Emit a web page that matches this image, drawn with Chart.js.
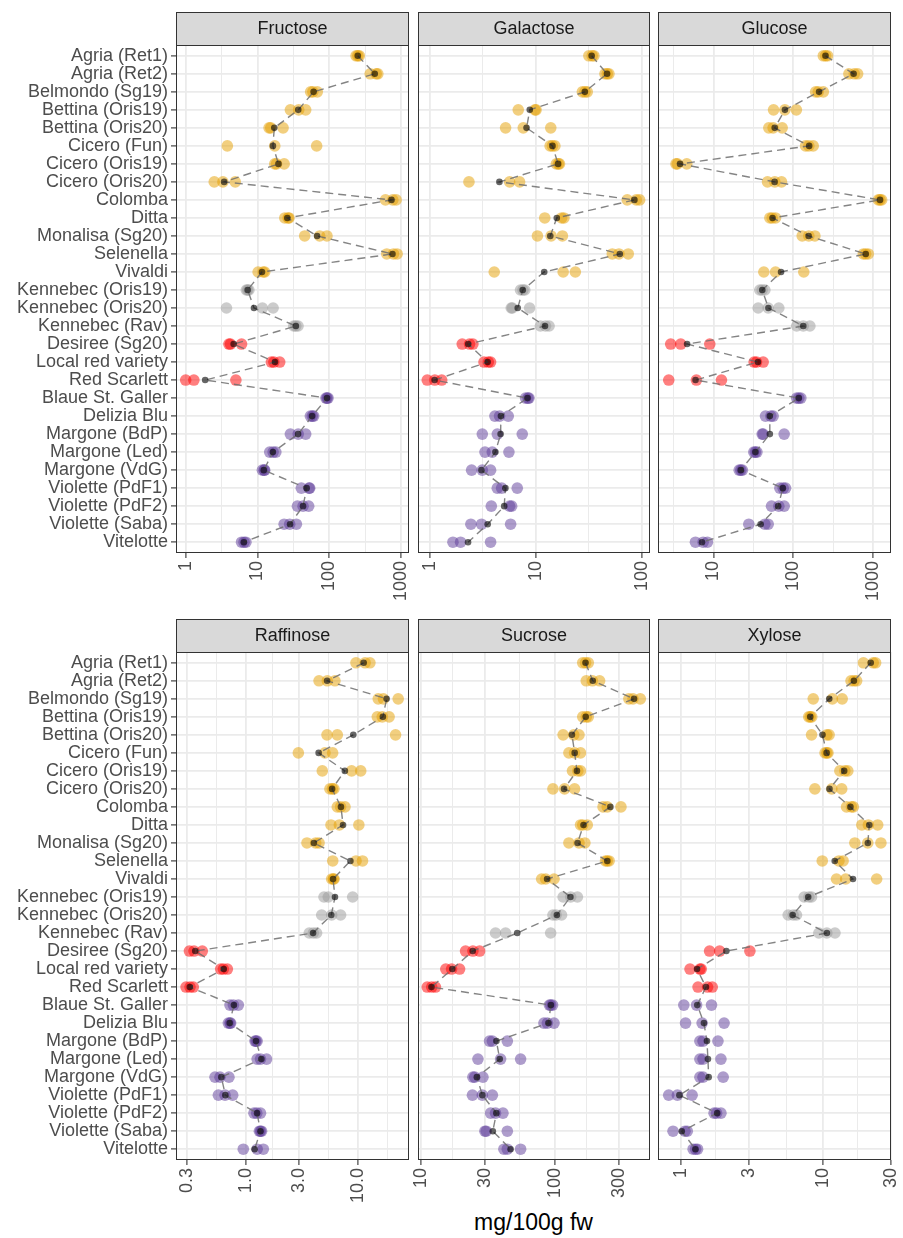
<!DOCTYPE html>
<html>
<head>
<meta charset="utf-8">
<script src="https://cdn.jsdelivr.net/npm/chart.js@4.4.1/dist/chart.umd.min.js"></script>
<style>
  html, body { margin: 0; padding: 0; background: #ffffff; }
  #wrap { position: relative; width: 903px; height: 1238px; overflow: hidden; background: #ffffff; }
  #wrap canvas { position: absolute; }
  #xtitle {
    position: absolute; left: 176px; width: 715px; top: 1209px;
    text-align: center; line-height: 26px;
    font: 23px "Liberation Sans", Arial, sans-serif; color: #000000;
  }
</style>
</head>
<body>
<div id="wrap"><div id="xtitle">mg/100g fw</div></div>
<script>
// Potato varieties, top to bottom
const categories = [
  'Agria (Ret1)', 'Agria (Ret2)', 'Belmondo (Sg19)', 'Bettina (Oris19)', 'Bettina (Oris20)',
  'Cicero (Fun)', 'Cicero (Oris19)', 'Cicero (Oris20)', 'Colomba', 'Ditta', 'Monalisa (Sg20)',
  'Selenella', 'Vivaldi', 'Kennebec (Oris19)', 'Kennebec (Oris20)', 'Kennebec (Rav)',
  'Desiree (Sg20)', 'Local red variety', 'Red Scarlett', 'Blaue St. Galler', 'Delizia Blu',
  'Margone (BdP)', 'Margone (Led)', 'Margone (VdG)', 'Violette (PdF1)', 'Violette (PdF2)',
  'Violette (Saba)', 'Vitelotte'
];

// Flesh colour group of each variety
const fleshGroup = [
  'yellow', 'yellow', 'yellow', 'yellow', 'yellow', 'yellow', 'yellow', 'yellow', 'yellow',
  'yellow', 'yellow', 'yellow', 'yellow', 'white', 'white', 'white', 'red', 'red', 'red',
  'purple', 'purple', 'purple', 'purple', 'purple', 'purple', 'purple', 'purple', 'purple'
];

// Three replicate measurements per variety, mg/100g fw
const fructose = [
  [236, 250, 262], [371, 450, 474], [55, 59, 68], [28.7, 37.5, 46.9], [14.5, 15.3, 22.7],
  [3.8, 17.4, 66.7], [17.4, 18.4, 23.5], [2.5, 3.3, 4.9], [606, 766, 853], [24.0, 26.7, 27.5],
  [45.4, 73.4, 92.8], [632, 783, 880], [10.2, 12.0, 12.6], [7.0, 7.3, 7.6], [3.7, 11.7, 16.5],
  [32.0, 34.1, 36.7], [4.0, 4.2, 6.0], [15.6, 16.9, 20.4], [1.0, 1.3, 5.0], [90, 93, 96],
  [54.5, 58, 60.6], [28.7, 36.9, 46.9], [14.8, 16.5, 18.0], [11.7, 12.4, 12.6], [40.8, 52.2, 53.3],
  [36.0, 43.1, 51.6], [23.5, 28.1, 34.8], [6.0, 6.5, 6.9]
];
const galactose = [
  [31.8, 34.2, 35.5], [45.1, 47.4, 49.2], [27.6, 29.2, 30.7], [6.86, 9.86, 10.1], [5.21, 7.65, 13.9],
  [13.7, 14.4, 15.2], [15.7, 16.4, 16.8], [2.35, 5.69, 7.06], [73.2, 89.1, 95.8], [12.2, 17.6, 18.5],
  [10.4, 14.0, 17.9], [52.9, 61.1, 74.8], [4.07, 18.2, 23.7], [7.2, 7.6, 7.9], [5.89, 6.03, 8.78],
  [11.1, 12.4, 13.4], [2.03, 2.38, 2.56], [3.26, 3.58, 3.76], [0.95, 1.12, 1.30], [8.05, 8.47, 8.65],
  [4.13, 4.57, 5.52], [3.14, 4.35, 7.48], [3.33, 3.90, 5.60], [2.49, 3.14, 3.76], [4.35, 4.78, 6.71],
  [3.82, 5.69, 5.94], [2.45, 3.09, 5.81], [1.66, 1.96, 3.76]
];
const glucose = [
  [237, 253, 268], [495, 578, 637], [190, 205, 237], [56.5, 78.3, 109], [49.3, 55.8, 72.4],
  [142, 156, 177], [3.40, 3.54, 4.64], [47.5, 58.6, 71.1], [1156, 1213, 1272], [50.8, 54.3, 59.8],
  [129, 156, 186], [750, 802, 865], [42.7, 59.8, 135], [38.0, 40.7, 44.0], [36.3, 48.4, 65.8],
  [110, 133, 161], [2.92, 3.90, 9.0], [32.3, 34.6, 41.9], [2.76, 6.12, 12.6], [110, 117, 124],
  [44.8, 52.2, 55.8], [40.7, 41.9, 76.7], [32, 33.5, 35], [21, 22, 23], [67.8, 74.6, 79.8],
  [53.3, 65.8, 76.7], [27.7, 44.0, 48.4], [5.96, 7.43, 8.41]
];
const raffinose = [
  [9.62, 11.6, 12.8], [4.50, 5.33, 6.24], [15.2, 16.9, 22.9], [14.9, 16.5, 19.0], [5.30, 6.55, 21.7],
  [2.94, 5.08, 5.95], [4.81, 8.79, 10.6], [5.63, 5.92, 6.11], [6.55, 7.01, 7.67], [5.75, 6.83, 10.2],
  [3.51, 4.20, 4.50], [5.96, 9.62, 11.0], [5.83, 6.04, 6.13], [4.98, 5.44, 8.98], [4.75, 5.83, 7.01],
  [3.68, 4.00, 4.28], [0.313, 0.344, 0.408], [0.595, 0.629, 0.683], [0.292, 0.317, 0.339],
  [0.721, 0.773, 0.856], [0.697, 0.721, 0.731], [1.205, 1.23, 1.26], [1.26, 1.35, 1.53],
  [0.530, 0.587, 0.706], [0.568, 0.651, 0.762], [1.18, 1.25, 1.35], [1.32, 1.35, 1.38],
  [0.948, 1.26, 1.43]
];
const sucrose = [
  [161, 169, 177], [171, 190, 215], [355, 381, 432], [161, 171, 177], [115, 138, 151],
  [127, 140, 155], [135, 148, 155], [96.6, 118, 140], [228, 245, 310], [155, 161, 174],
  [127, 151, 167], [238, 245, 253], [79.6, 85.3, 98.4], [115, 131, 147], [96.6, 102, 112],
  [36.1, 42.9, 92.9], [21.6, 24.5, 27.5], [15.4, 17.0, 19.5], [11.2, 12.1, 12.9], [91, 93, 96],
  [82.8, 87.8, 98.4], [32.6, 34.2, 44.2], [26.7, 39.4, 55.5], [24.5, 25.3, 29.1], [24.3, 28.8, 34.2],
  [33.2, 36.1, 41.0], [30.1, 30.8, 44.2], [41.7, 44.2, 55.5]
];
const xylose = [
  [19.2, 22.5, 23.4], [15.7, 16.5, 17.2], [8.50, 11.6, 13.6], [7.9, 8.1, 8.3], [8.27, 10.6, 11.0],
  [10.3, 10.6, 10.8], [13.1, 14.2, 14.9], [8.73, 11.5, 13.5], [14.6, 15.8, 16.3], [18.7, 20.8, 24.2],
  [16.7, 20.6, 25.5], [9.84, 12.9, 13.8], [12.4, 14.4, 23.8], [7.34, 7.92, 8.27], [5.66, 6.14, 6.48],
  [9.31, 10.6, 12.1], [1.58, 1.86, 3.04], [1.15, 1.35, 1.38], [1.31, 1.53, 1.65], [1.04, 1.28, 1.63],
  [1.07, 1.40, 2.0], [1.35, 1.42, 1.81], [1.35, 1.42, 1.90], [1.35, 1.42, 1.97], [0.814, 0.937, 1.19],
  [1.70, 1.77, 1.90], [0.873, 1.06, 1.10], [1.21, 1.26, 1.30]
];

// Axis breaks and their labels for each sugar
const fructoseTicks = [1, 10, 100, 1000];
const fructoseLabels = ['1', '10', '100', '1000'];
const galactoseTicks = [1, 10, 100];
const galactoseLabels = ['1', '10', '100'];
const glucoseTicks = [10, 100, 1000];
const glucoseLabels = ['10', '100', '1000'];
const raffinoseTicks = [0.3, 1, 3, 10];
const raffinoseLabels = ['0.3', '1.0', '3.0', '10.0'];
const sucroseTicks = [10, 30, 100, 300];
const sucroseLabels = ['10', '30', '100', '300'];
const xyloseTicks = [1, 3, 10, 30];
const xyloseLabels = ['1', '3', '10', '30'];

// Visible x range of each panel
const fructoseRange = [0.733, 1288];
const galactoseRange = [0.777, 120];
const glucoseRange = [2.025, 1665];
const raffinoseRange = [0.2376, 28.6];
const sucroseRange = [9.56, 510];
const xyloseRange = [0.684, 30.04];

const panels = [
  { name: 'Fructose', values: fructose, ticks: fructoseTicks, labels: fructoseLabels, range: fructoseRange, row: 0, col: 0 },
  { name: 'Galactose', values: galactose, ticks: galactoseTicks, labels: galactoseLabels, range: galactoseRange, row: 0, col: 1 },
  { name: 'Glucose', values: glucose, ticks: glucoseTicks, labels: glucoseLabels, range: glucoseRange, row: 0, col: 2 },
  { name: 'Raffinose', values: raffinose, ticks: raffinoseTicks, labels: raffinoseLabels, range: raffinoseRange, row: 1, col: 0 },
  { name: 'Sucrose', values: sucrose, ticks: sucroseTicks, labels: sucroseLabels, range: sucroseRange, row: 1, col: 1 },
  { name: 'Xylose', values: xylose, ticks: xyloseTicks, labels: xyloseLabels, range: xyloseRange, row: 1, col: 2 }
];

const groupColours = {
  yellow: 'rgba(230,159,0,0.5)',
  white: 'rgba(153,153,153,0.5)',
  red: 'rgba(255,0,0,0.5)',
  purple: 'rgba(94,60,153,0.5)'
};

// Facet grid geometry (plot area edges)
const colEdges = [[176, 409], [418, 650], [658, 891]];
const rowEdges = [{ strip: 12, top: 45, bottom: 553 }, { strip: 619, top: 652, bottom: 1160 }];
const STRIP_H = 33;

const FONT = '"Liberation Sans", Arial, sans-serif';
Chart.defaults.font.family = FONT;

// Minor breaks halfway between majors on the log scale
function minorBreaks(major, lo, hi) {
  const b = major.map(Math.log10);
  const bd = b[1] - b[0];
  if (Math.log10(lo) < b[0]) b.unshift(b[0] - bd);
  if (Math.log10(hi) > b[b.length - 1]) b.push(b[b.length - 1] + bd);
  const out = [];
  for (let i = 0; i < b.length - 1; i++) {
    const v = Math.pow(10, (b[i] + b[i + 1]) / 2);
    if (v > lo && v < hi) out.push(v);
  }
  return out;
}

function geoMean(arr) {
  return Math.pow(10, arr.reduce((s, v) => s + Math.log10(v), 0) / arr.length);
}

// Strip header and panel frame
const panelFrame = {
  id: 'panelFrame',
  afterDraw(chart, args, opts) {
    const { ctx, chartArea: a } = chart;
    ctx.save();
    ctx.fillStyle = '#D9D9D9';
    ctx.strokeStyle = '#333333';
    ctx.lineWidth = 1;
    ctx.fillRect(a.left, a.top - STRIP_H, a.right - a.left, STRIP_H);
    ctx.strokeRect(a.left + 0.5, a.top - STRIP_H + 0.5, a.right - a.left - 1, STRIP_H);
    ctx.fillStyle = '#1A1A1A';
    ctx.font = '18px ' + FONT;
    ctx.textAlign = 'center';
    ctx.textBaseline = 'middle';
    ctx.fillText(opts.title, (a.left + a.right) / 2, a.top - STRIP_H / 2 + 1);
    ctx.strokeStyle = '#333333';
    ctx.strokeRect(a.left + 0.5, a.top + 0.5, a.right - a.left - 1, a.bottom - a.top - 1);
    ctx.restore();
  }
};

const wrap = document.getElementById('wrap');

panels.forEach(p => {
  const [pl, pr] = colEdges[p.col];
  const R = rowEdges[p.row];
  const left = p.col === 0 ? 0 : pl - 14;
  const right = Math.min(903, pr + 14);
  const top = R.strip - 2;
  const bottom = R.bottom + 64;
  const W = right - left;
  const H = bottom - top;

  const cv = document.createElement('canvas');
  cv.width = W; cv.height = H;
  cv.style.left = left + 'px'; cv.style.top = top + 'px';
  cv.style.width = W + 'px'; cv.style.height = H + 'px';
  wrap.appendChild(cv);

  const [lo, hi] = p.range;
  const majors = p.ticks.filter(v => v >= lo && v <= hi);
  const tickList = majors.map(v => ({ value: v, minor: false }))
    .concat(minorBreaks(p.ticks, lo, hi).map(v => ({ value: v, minor: true })))
    .sort((a, b) => a.value - b.value);

  const reps = [];
  const repColours = [];
  p.values.forEach((trip, i) => {
    trip.forEach(v => {
      reps.push({ x: v, y: i });
      repColours.push(groupColours[fleshGroup[i]]);
    });
  });
  const means = p.values.map((trip, i) => ({ x: geoMean(trip), y: i }));

  const isLeft = p.col === 0;

  new Chart(cv, {
    type: 'scatter',
    data: {
      datasets: [
        {
          data: means,
          showLine: true,
          borderColor: 'rgba(110,110,110,0.85)',
          borderWidth: 1.4,
          borderDash: [8, 5],
          tension: 0,
          pointRadius: 3.3,
          pointBackgroundColor: 'rgba(0,0,0,0.6)',
          pointBorderWidth: 0,
          order: 0
        },
        {
          data: reps,
          pointRadius: 5.8,
          pointBackgroundColor: repColours,
          backgroundColor: repColours,
          pointBorderWidth: 0,
          borderWidth: 0,
          order: 1
        }
      ]
    },
    options: {
      responsive: false,
      animation: false,
      devicePixelRatio: 1,
      events: [],
      layout: { autoPadding: false, padding: { left: 0, top: R.top - top, right: right - pr, bottom: 0 } },
      plugins: { legend: { display: false }, tooltip: { enabled: false }, panelFrame: { title: p.name } },
      scales: {
        x: {
          type: 'logarithmic',
          position: 'bottom',
          min: lo, max: hi, bounds: 'data',
          afterBuildTicks: s => { s.ticks = tickList.map(t => ({ value: t.value, minor: t.minor })); },
          afterFit: s => {
            s.height = H - (R.bottom - top);
            s.paddingLeft = 0; s.paddingRight = 0;
          },
          ticks: {
            autoSkip: false, minRotation: 90, maxRotation: 90, padding: 3,
            color: '#4D4D4D', font: { size: 18 },
            callback: (v, i, ts) => {
              if (ts[i].minor) return '';
              const k = p.ticks.indexOf(ts[i].value);
              return k >= 0 ? p.labels[k] : '';
            }
          },
          grid: {
            color: '#EBEBEB',
            lineWidth: c => (c.tick && c.tick.minor ? 1 : 1.8),
            tickColor: c => (c.tick && c.tick.minor ? 'rgba(0,0,0,0)' : '#333333'),
            tickLength: 5, tickWidth: 1.1
          },
          border: { display: false }
        },
        y: {
          type: 'linear',
          min: -0.6, max: categories.length - 0.4, reverse: true, bounds: 'data',
          afterBuildTicks: s => { s.ticks = categories.map((_, i) => ({ value: i })); },
          afterFit: s => {
            s.width = pl - left;
            s.paddingTop = 0; s.paddingBottom = 0;
          },
          ticks: {
            display: isLeft, autoSkip: false, padding: 3,
            color: '#4D4D4D', font: { size: 18 },
            callback: v => categories[v]
          },
          grid: {
            color: '#EBEBEB', lineWidth: 1.8,
            drawTicks: isLeft, tickLength: 5, tickColor: '#333333', tickWidth: 1.1
          },
          border: { display: false }
        }
      }
    },
    plugins: [panelFrame]
  });
});
</script>
</body>
</html>
